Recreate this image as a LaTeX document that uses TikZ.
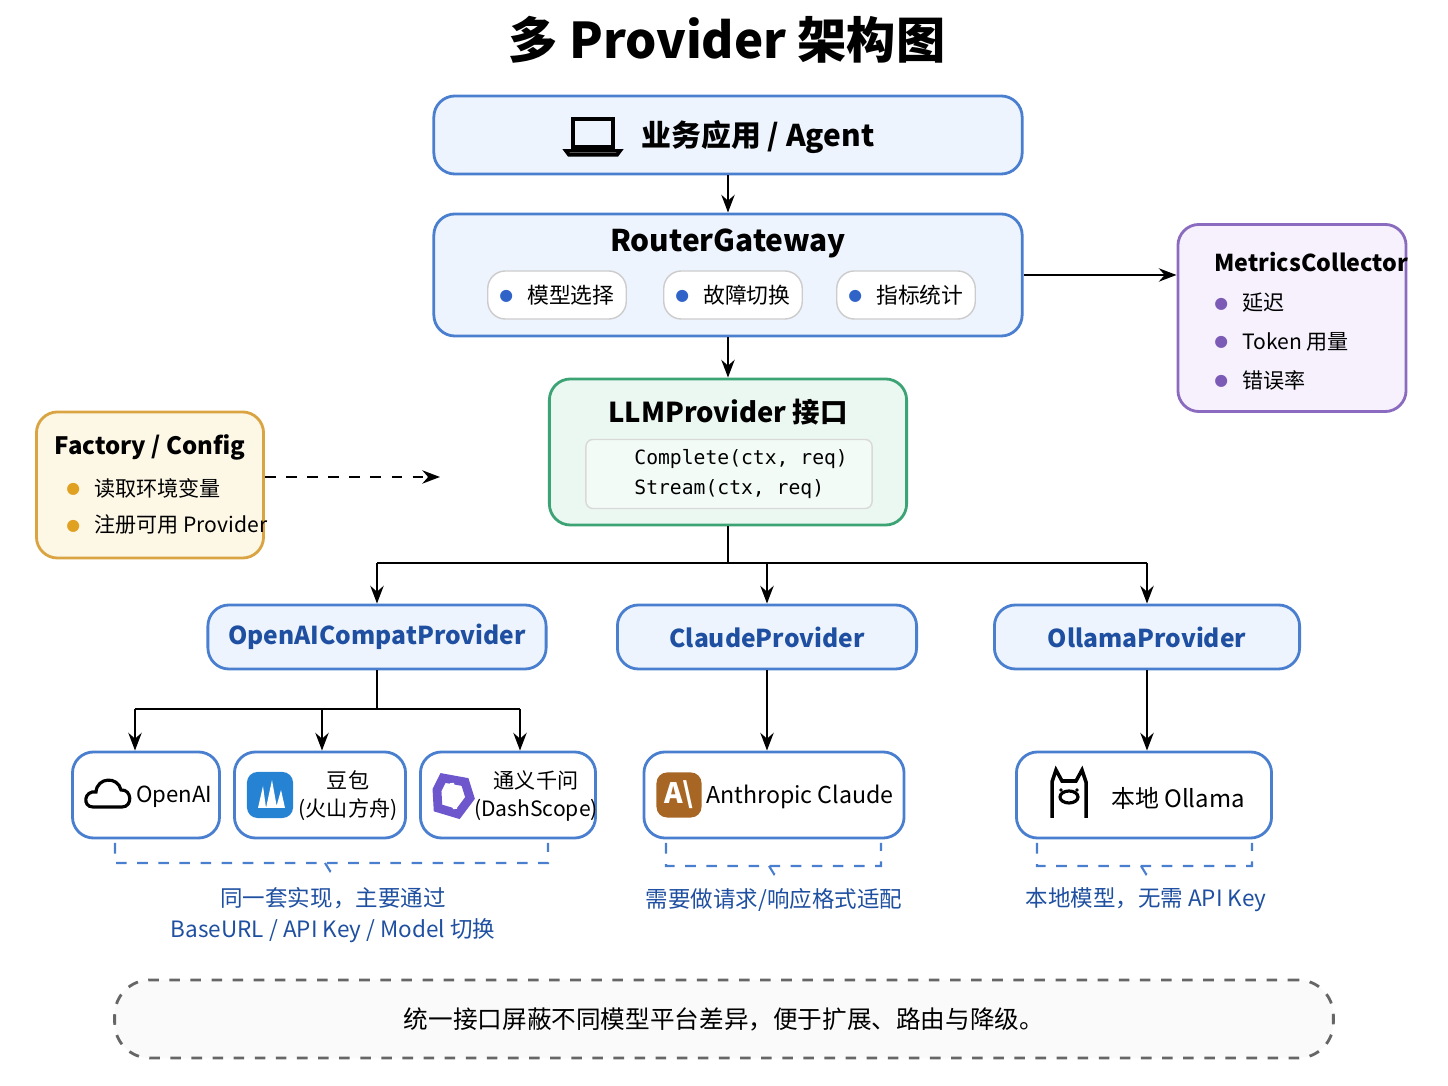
\documentclass[tikz,border=0pt]{standalone}
\usepackage{fontspec}
\setmainfont{Noto Sans CJK SC}
\setmonofont{DejaVu Sans Mono}
\newfontfamily\symfont{DejaVu Sans}
\usetikzlibrary{arrows.meta,positioning}
\definecolor{bluefill}{HTML}{EDF4FD}
\definecolor{blueline}{HTML}{4A7FD0}
\definecolor{bluetext}{HTML}{1E4FA0}
\definecolor{greenfill}{HTML}{EBF8F1}
\definecolor{greenline}{HTML}{3BA374}
\definecolor{purplefill}{HTML}{F6F1FC}
\definecolor{purpleline}{HTML}{8A6BC0}
\definecolor{orangefill}{HTML}{FDF7E6}
\definecolor{orangeline}{HTML}{D9A441}
\definecolor{dotblue}{HTML}{2F63C8}
\definecolor{dotpurple}{HTML}{7B5BB5}
\definecolor{dotorange}{HTML}{E0A020}
\newcommand{\bul}[1]{\textcolor{#1}{\raisebox{0.25ex}{\symfont\fontsize{4.5}{5}\selectfont ●}}\hspace{4pt}}
\tikzset{
  box/.style={draw=blueline, fill=bluefill, rounded corners=6pt, line width=0.8pt},
  pill/.style={draw=black!20, fill=white, rounded corners=5pt, minimum width=1.37cm, minimum height=0.48cm, font=\fontsize{6.2}{8}\selectfont},
  prov/.style={box, minimum height=0.64cm, font=\fontsize{7}{8}\selectfont\bfseries\color{bluetext}},
  leaf/.style={box, fill=white, minimum height=0.86cm},
  arr/.style={-{Stealth[length=5pt]}, line width=0.8pt},
  brace/.style={dashed, draw=blueline, line width=0.6pt},
  note/.style={font=\fontsize{6.4}{9}\selectfont\color{bluetext}, align=center},
  item/.style={font=\fontsize{6}{8}\selectfont, anchor=west},
}
\begin{document}
\begin{tikzpicture}[x=0.01cm,y=-0.01cm]
  \useasboundingbox (0,0) rectangle (1448,1086);
  % Titulo
  \node (title) at (727,40) {\fontsize{14}{16}\selectfont\bfseries 多 Provider 架构图};

  % Capa de aplicacion
  \node[box, minimum width=5.88cm, minimum height=0.78cm] (app) at (728,135) {};
  \node[font=\fontsize{8.5}{10}\selectfont\bfseries] (apptext) at (758,137) {业务应用 / Agent};
  \draw[line width=1pt] (573,119) rectangle (613,147);
  \draw[line width=1pt, fill=white] (566,151) -- (620,151) -- (617,155) -- (569,155) -- cycle;

  % Router
  \node[box, minimum width=5.88cm, minimum height=1.22cm] (router) at (728,275) {};
  \node[font=\fontsize{8.5}{10}\selectfont\bfseries] (routertitle) at (728,243) {RouterGateway};
  \node[pill] (p1) at (557,295) {\bul{dotblue}模型选择};
  \node[pill] (p2) at (733,295) {\bul{dotblue}故障切换};
  \node[pill] (p3) at (906,295) {\bul{dotblue}指标统计};

  % Metricas
  \node[box, draw=purpleline, fill=purplefill, minimum width=2.28cm, minimum height=1.87cm] (metrics) at (1292,318) {};
  \node[item, font=\fontsize{6.6}{8}\selectfont\bfseries] (mtitle) at (1202,262) {MetricsCollector};
  \node[item] (m1) at (1202,303) {\bul{dotpurple}延迟};
  \node[item] (m2) at (1202,342) {\bul{dotpurple}Token 用量};
  \node[item] (m3) at (1202,380) {\bul{dotpurple}错误率};

  % Interfaz
  \node[box, draw=greenline, fill=greenfill, minimum width=3.57cm, minimum height=1.46cm] (iface) at (728,452) {};
  \node[font=\fontsize{7.8}{9}\selectfont\bfseries] (ifacetitle) at (728,412) {LLMProvider 接口};
  \node[draw=black!15, fill=greenfill!60!white, rounded corners=2pt, minimum width=2.86cm, minimum height=0.69cm] (methods) at (729,474) {};
  \node[item, font=\fontsize{5.6}{7}\ttfamily] at (622,459) {Complete(ctx, req)};
  \node[item, font=\fontsize{5.6}{7}\ttfamily] at (622,489) {Stream(ctx, req)};

  % Factory
  \node[box, draw=orangeline, fill=orangefill, minimum width=2.27cm, minimum height=1.46cm] (factory) at (150,485) {};
  \node[font=\fontsize{6.8}{8}\selectfont\bfseries] (ftitle) at (150,447) {Factory / Config};
  \node[item] (f1) at (54,488) {\bul{dotorange}读取环境变量};
  \node[item] (f2) at (54,525) {\bul{dotorange}注册可用 Provider};
  \coordinate (fend) at (440,477);

  % Providers
  \node[prov, minimum width=3.38cm] (openaic) at (377,637) {OpenAICompatProvider};
  \node[prov, minimum width=2.99cm] (claude) at (767,637) {ClaudeProvider};
  \node[prov, minimum width=3.05cm] (ollama) at (1147,637) {OllamaProvider};

  % Hojas
  \node[leaf, minimum width=1.47cm] (openai) at (146,795) {};
  \node[font=\fontsize{6.3}{8}\selectfont] at (174,797) {OpenAI};
  \draw[line width=0.9pt] (93,807) .. controls (82,807) and (84,790) .. (96,792) .. controls (97,777) and (118,776) .. (121,790) .. controls (132,789) and (133,807) .. (122,807) -- cycle;
  \node[leaf, minimum width=1.71cm] (doubao) at (320,795) {};
  \node[fill=dotblue!80!cyan, rounded corners=3pt, minimum size=0.46cm] (dbicon) at (270,795) {};
  \fill[white] (258,808) -- (263,786) -- (266,808) -- cycle (266,808) -- (272,780) -- (277,808) -- cycle (276,808) -- (281,790) -- (285,808) -- cycle;
  \node[font=\fontsize{6}{8}\selectfont, align=center] at (348,796) {豆包\\(火山方舟)};
  \node[leaf, minimum width=1.75cm] (qwen) at (508,795) {};
  \draw[line width=2.5pt, draw=purpleline!80!blue] (443,778) -- (465,782) -- (470,798) -- (458,814) -- (438,808) -- (437,790) -- cycle;
  \draw[line width=1.2pt, white] (445,790) -- (462,800) (452,783) -- (455,809);
  \node[font=\fontsize{6}{8}\selectfont, align=center] at (536,796) {通义千问\\(DashScope)};
  \node[leaf, minimum width=2.60cm] (anthropic) at (774,795) {};
  \node[fill=brown!70!orange!80!black, rounded corners=3pt, minimum size=0.45cm, text=white, font=\fontsize{8}{8}\selectfont\bfseries, inner sep=0pt] (anicon) at (679,795) {A\textbackslash};
  \node[font=\fontsize{6.6}{8}\selectfont] at (800,797) {Anthropic Claude};
  \node[leaf, minimum width=2.55cm] (local) at (1144,795) {};
  \draw[line width=1pt] (1052,818) -- (1052,782) -- (1056,770) -- (1062,781) -- (1076,781) -- (1082,770) -- (1086,782) -- (1086,818);
  \draw[line width=0.9pt] (1069,797) ellipse (9 and 6);
  \fill (1061,790) circle (1.8) (1077,790) circle (1.8);
  \node[font=\fontsize{6.8}{8}\selectfont] at (1178,798) {本地 Ollama};

  % Conectores
  \draw[arr] (app) -- (router);
  \draw[arr] (router.east |- 0,275) -- (metrics.west |- 0,275);
  \draw[arr] (router) -- (iface);
  \draw[arr, dashed] (factory.east |- fend) -- (fend);
  \draw[line width=0.8pt] (iface.south) -- (728,563) coordinate (bus);
  \draw[line width=0.8pt] (openaic.north |- bus) -- (ollama.north |- bus);
  \draw[arr] (openaic.north |- bus) -- (openaic.north);
  \draw[arr] (claude.north |- bus) -- (claude.north);
  \draw[arr] (ollama.north |- bus) -- (ollama.north);
  \draw[line width=0.8pt] (openaic.south) -- (377,709) coordinate (bus2);
  \draw[line width=0.8pt] (135,709) -- (520,709);
  \draw[arr] (135,709) -- (openai.north -| 135,0);
  \draw[arr] (322,709) -- (doubao.north -| 322,0);
  \draw[arr] (520,709) -- (qwen.north -| 520,0);
  \draw[arr] (claude.south) -- (anthropic.north -| claude.south);
  \draw[arr] (ollama.south) -- (local.north -| ollama.south);

  % Notas
  \draw[brace] (115,843) -- (115,863) -- (548,863) -- (548,843) (325,863) -- (330,871) -- (335,863);
  \draw[brace] (666,843) -- (666,866) -- (881,866) -- (881,843) (769,866) -- (774,874) -- (779,866);
  \draw[brace] (1037,843) -- (1037,866) -- (1252,866) -- (1252,843) (1141,866) -- (1146,874) -- (1151,866);
  \node[note] (n1) at (333,915) {同一套实现，主要通过\\BaseURL / API Key / Model 切换};
  \node[note] (n2) at (774,900) {需要做请求/响应格式适配};
  \node[note] (n3) at (1146,900) {本地模型，无需 API Key};

  % Resumen
  \node[draw=black!60, dashed, fill=black!2, rounded corners=10pt, minimum width=12.18cm, minimum height=0.78cm, line width=0.8pt, font=\fontsize{7}{9}\selectfont] (summary) at (724,1019) {统一接口屏蔽不同模型平台差异，便于扩展、路由与降级。};
\end{tikzpicture}
\end{document}
